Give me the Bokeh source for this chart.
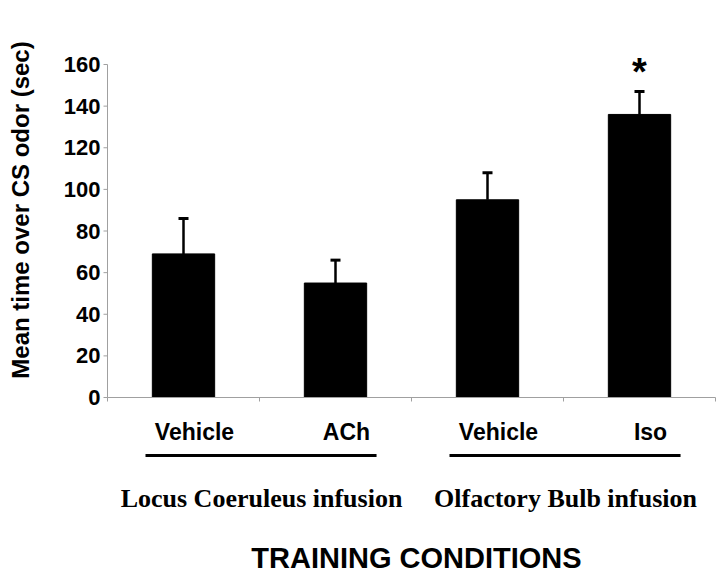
import math
from bokeh.plotting import figure
from bokeh.models import Range1d, Whisker, TeeHead, ColumnDataSource
from bokeh.core.properties import value
from bokeh.embed import file_html
from bokeh.resources import INLINE

# ---- data ----
categories = ["Vehicle", "ACh", "Vehicle", "Iso"]
means = [69, 55, 95, 136]
errors = [17, 11, 13, 11]
significance = ["", "", "", "*"]
groups = ["Locus Coeruleus infusion", "Olfactory Bulb infusion"]
group_members = [[0, 1], [2, 3]]
y_ticks = [0, 20, 40, 60, 80, 100, 120, 140, 160]
y_tick_labels = [str(t) for t in y_ticks]
y_title = "Mean time over CS odor (sec)"
x_title = "TRAINING CONDITIONS"

# ---- layout (styles) ----
W, H = 720, 574
KX = 152.0                 # px per category
KY = 333.0 / 160.0         # px per y unit
X0, X1 = -107 / KX, (W - 107) / KX
Y0, Y1 = -(H - 397) / KY, 397 / KY
AX = "#a0a0a0"
SANS = value("Liberation Sans")
SERIF = value("Liberation Serif")

xs = [i + 0.5 for i in range(len(categories))]
tops = [m + e for m, e in zip(means, errors)]

p = figure(width=W, height=H, x_range=Range1d(X0, X1), y_range=Range1d(Y0, Y1),
           x_axis_type=None, y_axis_type=None, output_backend="svg", toolbar_location=None,
           min_border_top=0, min_border_bottom=0, min_border_right=0, min_border_left=0)
p.outline_line_color = None
p.background_fill_color = "white"
p.border_fill_color = "white"

# ---- y axis (drawn through the data scales) ----
p.segment(x0=[0], y0=[y_ticks[0]], x1=[0], y1=[y_ticks[-1]], line_color=AX, line_width=1)
p.segment(x0=[-4 / KX] * len(y_ticks), y0=y_ticks, x1=[0] * len(y_ticks), y1=y_ticks,
          line_color=AX, line_width=1)
p.text(x=[0] * len(y_ticks), y=y_ticks, text=y_tick_labels, text_align="right",
       text_baseline="middle", x_offset=-7, text_font=SANS, text_font_style="bold",
       text_font_size="22px", text_color="black")
p.text(x=[0], y=[(y_ticks[0] + y_ticks[-1]) / 2], text=[y_title], angle=math.pi / 2,
       text_align="center", text_baseline="middle", x_offset=-87, y_offset=-21,
       text_font=SANS, text_font_style="bold", text_font_size="24px", text_color="black")

# ---- bars ----
src = ColumnDataSource(dict(x=xs, mean=means, top=tops, cat=categories, sig=significance))
p.vbar(x="x", top="mean", bottom=0, width=0.41, source=src, fill_color="black", line_color="black")

# error bars (upper only)
p.add_layout(Whisker(base="x", lower="mean", upper="top", source=src, dimension="height",
                     line_color="black", line_width=2.5, lower_head=None,
                     upper_head=TeeHead(size=10, line_width=3, line_color="black")))

# significance asterisk
p.text(x="x", y="top", text="sig", source=src, text_align="center", text_baseline="alphabetic",
       y_offset=-20, text_font=SANS, text_font_style="bold",
       text_font_size="38px", text_color="black")

# ---- x baseline and separator ticks ----
bounds_x = list(range(len(categories) + 1))
p.segment(x0=[0], y0=[0], x1=[len(categories)], y1=[0], line_color=AX, line_width=1)
p.segment(x0=bounds_x, y0=[0] * len(bounds_x), x1=bounds_x, y1=[-4 / KY] * len(bounds_x),
          line_color=AX, line_width=1)

# category labels
p.text(x="x", y=0, text="cat", source=src, text_align="center", text_baseline="alphabetic",
       x_offset=11, y_offset=34, text_font=SANS, text_font_style="bold",
       text_font_size="23px", text_color="black")

# group underlines and group labels
gx0 = [xs[g[0]] - 0.25 for g in group_members]
gx1 = [xs[g[-1]] + 0.27 for g in group_members]
gc = [(xs[g[0]] + xs[g[-1]]) / 2 for g in group_members]
p.segment(x0=gx0, y0=[-58 / KY] * 2, x1=gx1, y1=[-58 / KY] * 2, line_color="black", line_width=3)
p.text(x=gc, y=[0] * 2, text=groups, text_align="center", text_baseline="alphabetic",
       x_offset=2, y_offset=101, text_font=SERIF, text_font_style="bold",
       text_font_size="26px", text_color="black")

# x title
p.text(x=[sum(xs) / len(xs)], y=[0], text=[x_title], text_align="center", text_baseline="alphabetic",
       x_offset=5, y_offset=160, text_font=SANS, text_font_style="bold",
       text_font_size="29px", text_color="black")

open("out.html", "w").write(file_html(p, INLINE))
